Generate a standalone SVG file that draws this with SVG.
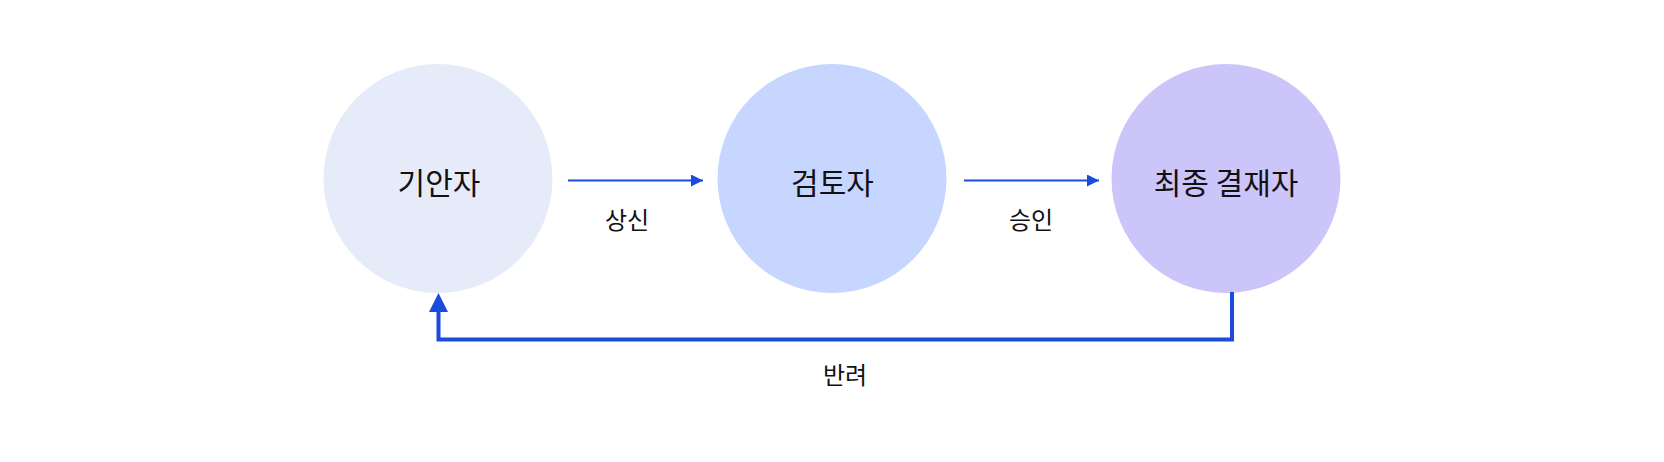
<svg xmlns="http://www.w3.org/2000/svg" width="1664" height="462" viewBox="0 0 1664 462">
<style>
.node-label{font-family:"Noto Sans CJK KR","Noto Sans",sans-serif;font-size:30px;font-weight:400;fill:#111;text-anchor:middle;dominant-baseline:central}
.edge-label{font-family:"Noto Sans CJK KR","Noto Sans",sans-serif;font-size:24px;font-weight:400;fill:#111;text-anchor:middle;dominant-baseline:central}
.edge{stroke:#1A4BDB;fill:none}
</style>
<defs>
<marker id="arrowSmall" markerWidth="12" markerHeight="12" refX="12" refY="6" orient="auto" markerUnits="userSpaceOnUse">
<path d="M0,0 L12,6 L0,12 Z" fill="#1A4BDB"/>
</marker>
</defs>
<rect width="1664" height="462" fill="#FFFFFF"/>
<g id="node-drafter">
<circle cx="438" cy="178.5" r="114.5" fill="#E6EBFA"/>
<text class="node-label" x="439" y="180.5">기안자</text>
</g>
<g id="node-reviewer">
<circle cx="832" cy="178.5" r="114.5" fill="#C6D6FF"/>
<text class="node-label" x="832.5" y="180.5">검토자</text>
</g>
<g id="node-approver">
<circle cx="1226" cy="178.5" r="114.5" fill="#CCC5FA"/>
<text class="node-label" x="1226" y="180.5">최종 결재자</text>
</g>
<g id="connectors">
<line class="edge" x1="568" y1="180.5" x2="703" y2="180.5" stroke-width="2" marker-end="url(#arrowSmall)"/>
<text class="edge-label" x="627" y="218">상신</text>
<line class="edge" x1="964" y1="180.5" x2="1099" y2="180.5" stroke-width="2" marker-end="url(#arrowSmall)"/>
<text class="edge-label" x="1031" y="218">승인</text>
<polyline class="edge" points="1232,292 1232,339.5 438.5,339.5 438.5,310" stroke-width="4"/>
<path d="M438.5,293 L448,312 L429,312 Z" fill="#1A4BDB"/>
<text class="edge-label" x="845" y="373">반려</text>
</g>
</svg>
